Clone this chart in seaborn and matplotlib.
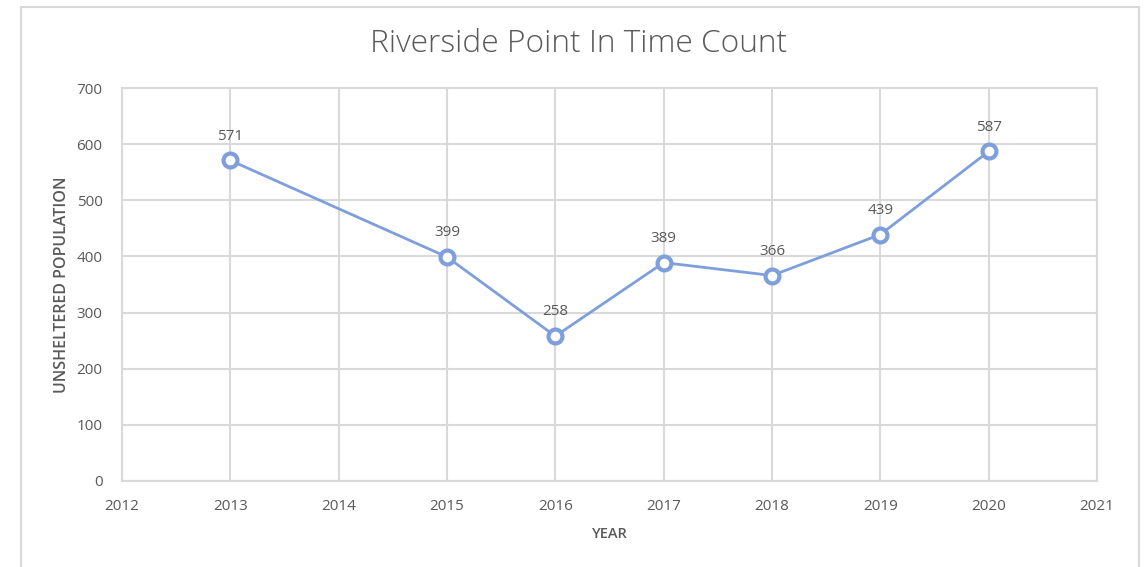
import matplotlib
matplotlib.use("Agg")
import matplotlib.pyplot as plt
import seaborn as sns
import pandas as pd
from matplotlib.patches import Rectangle

years = [2013, 2015, 2016, 2017, 2018, 2019, 2020]
counts = [571, 399, 258, 389, 366, 439, 587]
x_ticks = list(range(2012, 2022))
y_ticks = [0, 100, 200, 300, 400, 500, 600, 700]
title = "Riverside Point In Time Count"
xlabel = "YEAR"
ylabel = "UNSHELTERED POPULATION"

sns.set_theme(style="white")
plt.rcParams['font.family'] = ['Open Sans', 'DejaVu Sans']

txt = "#595959"
grid_c = "#d9d9d9"
line_c = "#7f9fdc"

fig = plt.figure(figsize=(11.45, 5.67), dpi=100)
fig.patches.append(Rectangle((21/1145, -0.05), 1118/1145, 1 - 7/567 + 0.05,
                             transform=fig.transFigure, fill=False,
                             edgecolor="#d9d9d9", linewidth=1.5))
ax = fig.add_axes([122/1145, 1 - 481/567, 975/1145, 393/567])

df = pd.DataFrame({"year": years, "count": counts})
sns.lineplot(data=df, x="year", y="count", ax=ax, color=line_c, linewidth=2,
             marker="o", markersize=10, markerfacecolor="white",
             markeredgecolor=line_c, markeredgewidth=3, zorder=3)

for xv, yv in zip(years, counts):
    ax.annotate(str(yv), (xv, yv), xytext=(0, 12), textcoords="offset points",
                ha="center", va="bottom", fontsize=11, color=txt)

ax.set_xlim(2012, 2021)
ax.set_ylim(0, 700)
ax.set_xticks(x_ticks)
ax.set_yticks(y_ticks)
ax.set_xticklabels([str(v) for v in x_ticks])
ax.grid(True, color=grid_c, linewidth=1.5)
ax.set_axisbelow(True)
for s in ax.spines.values():
    s.set_color(grid_c)
    s.set_linewidth(1.5)
ax.tick_params(axis="both", length=0, labelsize=11, labelcolor=txt)
ax.tick_params(axis="x", pad=13)
ax.tick_params(axis="y", pad=14)
ax.set_xlabel(xlabel, fontsize=10.5, color=txt, labelpad=9, fontweight="semibold")
ax.set_ylabel(ylabel, fontsize=11.5, color=txt, labelpad=5, fontweight="semibold")
fig.text(579/1145, 1 - 44/567, title, ha="center", va="center",
         fontsize=22.8, color=txt, fontweight="light")

fig.savefig("out.png", dpi=100, facecolor="white")
